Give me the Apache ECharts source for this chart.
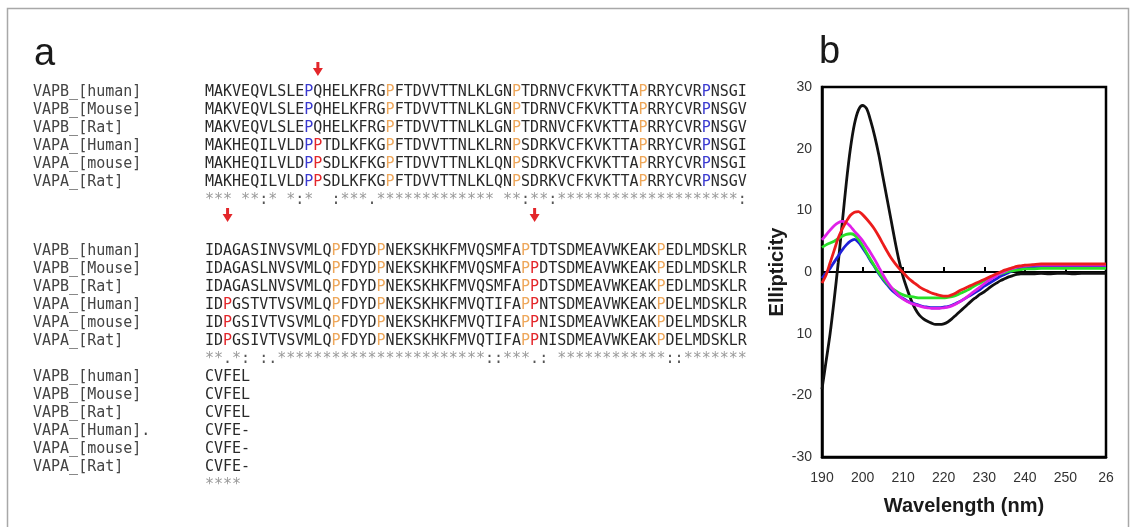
<!DOCTYPE html>
<html>
<head>
<meta charset="utf-8">
<title>VAP alignment and CD spectra</title>
<script src="https://cdn.jsdelivr.net/npm/echarts@6.0.0/dist/echarts.min.js"></script>
<style>
  html, body { margin: 0; padding: 0; background: #fff; }
  #chart { width: 1138px; height: 527px; }
</style>
</head>
<body>
<div id="chart"></div>
<script>
// ---------- Panel a: sequence alignment ----------
const seqNames = ['VAPB_[human]', 'VAPB_[Mouse]', 'VAPB_[Rat]', 'VAPA_[Human]', 'VAPA_[mouse]', 'VAPA_[Rat]'];
const seqNamesLast = ['VAPB_[human]', 'VAPB_[Mouse]', 'VAPB_[Rat]', 'VAPA_[Human].', 'VAPA_[mouse]', 'VAPA_[Rat]'];

const block1 = [
  'MAKVEQVLSLEPQHELKFRGPFTDVVTTNLKLGNPTDRNVCFKVKTTAPRRYCVRPNSGI',
  'MAKVEQVLSLEPQHELKFRGPFTDVVTTNLKLGNPTDRNVCFKVKTTAPRRYCVRPNSGV',
  'MAKVEQVLSLEPQHELKFRGPFTDVVTTNLKLGNPTDRNVCFKVKTTAPRRYCVRPNSGV',
  'MAKHEQILVLDPPTDLKFKGPFTDVVTTNLKLRNPSDRKVCFKVKTTAPRRYCVRPNSGI',
  'MAKHEQILVLDPPSDLKFKGPFTDVVTTNLKLQNPSDRKVCFKVKTTAPRRYCVRPNSGI',
  'MAKHEQILVLDPPSDLKFKGPFTDVVTTNLKLQNPSDRKVCFKVKTTAPRRYCVRPNSGV'
];
const cons1 = '*** **:* *:*  :***.************* **:**:********************:';

const block2 = [
  'IDAGASINVSVMLQPFDYDPNEKSKHKFMVQSMFAPTDTSDMEAVWKEAKPEDLMDSKLR',
  'IDAGASLNVSVMLQPFDYDPNEKSKHKFMVQSMFAPPDTSDMEAVWKEAKPEDLMDSKLR',
  'IDAGASLNVSVMLQPFDYDPNEKSKHKFMVQSMFAPPDTSDMEAVWKEAKPEDLMDSKLR',
  'IDPGSTVTVSVMLQPFDYDPNEKSKHKFMVQTIFAPPNTSDMEAVWKEAKPDELMDSKLR',
  'IDPGSIVTVSVMLQPFDYDPNEKSKHKFMVQTIFAPPNISDMEAVWKEAKPDELMDSKLR',
  'IDPGSIVTVSVMLQPFDYDPNEKSKHKFMVQTIFAPPNISDMEAVWKEAKPDELMDSKLR'
];
const cons2 = '**.*: :.***********************::***.: ************::*******';

const block3 = ['CVFEL', 'CVFEL', 'CVFEL', 'CVFE-', 'CVFE-', 'CVFE-'];
const cons3 = '****';

// proline columns (1-based) by highlight colour
const block1Blue = [12, 56];
const block1Orange = [21, 35, 49];
const block1Red = [13];
const block2Blue = [];
const block2Orange = [15, 20, 36, 51];
const block2Red = [3, 37];

// columns marked with a red arrow
const block1Arrows = [13];
const block2Arrows = [3, 37];

// ---------- Panel b: CD spectra ----------
const wavelength = [
  190, 191, 192, 193, 194, 195, 196, 197, 198, 199,
  200, 201, 202, 203, 204, 205, 206, 207, 208, 209,
  210, 211, 212, 213, 214, 215, 216, 217, 218, 219,
  220, 221, 222, 223, 224, 225, 226, 227, 228, 229,
  230, 231, 232, 233, 234, 235, 236, 237, 238, 239,
  240, 242, 244, 246, 248, 250, 252, 254, 256, 258, 260
];
const cdBlack = [
  -19, -14.5, -10, -4.5, 1.5, 8, 14.5, 20, 24, 26.3,
  27, 26.5, 24.5, 22, 19, 15.5, 12, 8.5, 5, 1.8,
  -0.8, -2.8, -4.6, -6, -7, -7.6, -8, -8.3, -8.5, -8.5,
  -8.4, -8.1, -7.6, -7.0, -6.4, -5.8, -5.2, -4.6, -4.1, -3.6,
  -3.2, -2.7, -2.2, -1.8, -1.4, -1.1, -0.8, -0.6, -0.4, -0.3,
  -0.3, -0.3, -0.2, -0.3, -0.2, -0.2, -0.3, -0.2, -0.2, -0.2, -0.2
];
const cdBlue = [
  -1, -0.2, 0.6, 1.6, 2.6, 3.6, 4.4, 5.0, 5.3, 4.8,
  3.9, 2.9, 1.8, 0.8, -0.3, -1.2, -2.0, -2.8, -3.4, -3.9,
  -4.3, -4.7, -5.0, -5.2, -5.4, -5.6, -5.7, -5.8, -5.8, -5.8,
  -5.7, -5.6, -5.4, -5.1, -4.8, -4.4, -4.0, -3.6, -3.2, -2.8,
  -2.3, -1.9, -1.5, -1.1, -0.7, -0.4, -0.1, 0.2, 0.4, 0.6,
  0.7, 0.8, 0.8, 0.8, 0.8, 0.8, 0.8, 0.8, 0.8, 0.8, 0.8
];
const cdGreen = [
  4, 4.4, 4.7, 5, 5.4, 5.8, 6.1, 6.2, 6.0, 5.3,
  4.3, 3.1, 2.0, 0.9, -0.1, -1.0, -1.8, -2.5, -3.0, -3.4,
  -3.7, -3.9, -4.0, -4.1, -4.2, -4.2, -4.2, -4.2, -4.2, -4.2,
  -4.2, -4.1, -4.0, -3.8, -3.5, -3.2, -2.9, -2.5, -2.1, -1.8,
  -1.4, -1.1, -0.8, -0.5, -0.3, -0.1, 0.1, 0.2, 0.3, 0.4,
  0.5, 0.5, 0.6, 0.6, 0.6, 0.6, 0.6, 0.6, 0.6, 0.6, 0.6
];
const cdMagenta = [
  5.2, 6, 6.8, 7.5, 8, 8.2, 8, 7.4, 6.6, 5.9,
  5.1, 4.1, 3.1, 2.0, 0.8, -0.4, -1.5, -2.4, -3.2, -3.9,
  -4.4, -4.8, -5.1, -5.3, -5.5, -5.7, -5.8, -5.9, -5.9, -5.9,
  -5.8, -5.7, -5.5, -5.2, -4.8, -4.4, -3.9, -3.4, -2.9, -2.4,
  -1.9, -1.4, -1.0, -0.6, -0.2, 0.1, 0.4, 0.6, 0.8, 0.9,
  1.0, 1.1, 1.1, 1.1, 1.1, 1.1, 1.1, 1.1, 1.1, 1.1, 1.1
];
const cdRed = [
  -1.8, -0.5, 1.5, 3.5, 5.5, 7, 8.2, 9.2, 9.7, 9.8,
  9.3, 8.6, 7.8, 6.9, 5.8, 4.6, 3.4, 2.3, 1.4, 0.6,
  -0.1, -0.8, -1.4, -1.9, -2.4, -2.8, -3.1, -3.4, -3.6, -3.8,
  -3.9, -3.9, -3.7, -3.4, -3.0, -2.7, -2.4, -2.1, -1.8, -1.5,
  -1.2, -0.9, -0.6, -0.3, 0.0, 0.3, 0.5, 0.7, 0.9, 1.0,
  1.1, 1.2, 1.3, 1.3, 1.3, 1.3, 1.3, 1.3, 1.3, 1.3, 1.3
];

const xTickLabels = ['190', '200', '210', '220', '230', '240', '250', '26'];
const yTickLabels = ['-30', '-20', '10', '0', '10', '20', '30'];

// ---------- layout ----------
const MONO = '15px "DejaVu Sans Mono", monospace';
const SANS = '"Liberation Sans", Arial, sans-serif';
const measureCtx = document.createElement('canvas').getContext('2d');
measureCtx.font = MONO;
const CHAR_W = measureCtx.measureText('MMMMMMMMMM').width / 10;

const NAME_X = 33;
const SEQ_X = 205;
const ROW_H = 18;
const BLOCK_Y = [92, 251, 377];

const PRO_COLORS = { o: '#eea75a', b: '#3a3ad0', r: '#e3262a' };
const richBase = {
  o: { fill: PRO_COLORS.o, font: MONO },
  b: { fill: PRO_COLORS.b, font: MONO },
  r: { fill: PRO_COLORS.r, font: MONO },
  k: { fill: '#555', font: MONO }
};

function markSeq(seq, blue, orange, red) {
  let out = '';
  for (let i = 0; i < seq.length; i++) {
    const c = seq[i], col = i + 1;
    if (c === 'P' && blue.includes(col)) out += '{b|P}';
    else if (c === 'P' && orange.includes(col)) out += '{o|P}';
    else if (c === 'P' && red.includes(col)) out += '{r|P}';
    else out += c;
  }
  return out;
}
function markCons(s) {
  return s.replace(/[:.]/g, m => '{k|' + m + '}');
}

const graphics = [];
// outer frame
graphics.push({
  type: 'rect', silent: true,
  shape: { x: 7.5, y: 8.5, width: 1121, height: 540 },
  style: { fill: 'none', stroke: '#a8a8a8', lineWidth: 1.5 }
});
// panel letters
graphics.push({ type: 'text', x: 34, y: 55, style: { text: 'a', font: '38px ' + SANS, fill: '#1a1a1a', verticalAlign: 'middle' } });
graphics.push({ type: 'text', x: 819, y: 53, style: { text: 'b', font: '38px ' + SANS, fill: '#1a1a1a', verticalAlign: 'middle' } });

function addBlock(top, names, seqs, cons, blue, orange, red) {
  seqs.forEach((s, r) => {
    const y = top + r * ROW_H;
    graphics.push({ type: 'text', x: NAME_X, y: y, silent: true,
      style: { text: names[r], font: MONO, fill: '#444', verticalAlign: 'middle' } });
    graphics.push({ type: 'text', x: SEQ_X, y: y, silent: true,
      style: { text: markSeq(s, blue, orange, red), font: MONO, fill: '#2a2a2a', verticalAlign: 'middle', rich: richBase } });
  });
  graphics.push({ type: 'text', x: SEQ_X, y: top + seqs.length * ROW_H, silent: true,
    style: { text: markCons(cons), font: MONO, fill: '#9a9a9a', verticalAlign: 'middle', rich: richBase } });
}
addBlock(BLOCK_Y[0], seqNames, block1, cons1, block1Blue, block1Orange, block1Red);
addBlock(BLOCK_Y[1], seqNames, block2, cons2, block2Blue, block2Orange, block2Red);
addBlock(BLOCK_Y[2], seqNamesLast, block3, cons3, [], [], []);

function addArrow(col, y0) {
  const cx = SEQ_X + (col - 0.5) * CHAR_W;
  graphics.push({ type: 'polygon', silent: true,
    shape: { points: [
      [cx - 1.5, y0], [cx + 1.5, y0], [cx + 1.5, y0 + 6], [cx + 5, y0 + 6],
      [cx, y0 + 14], [cx - 5, y0 + 6], [cx - 1.5, y0 + 6]
    ] },
    style: { fill: '#e3262a' } });
}
block1Arrows.forEach(c => addArrow(c, 62));
block2Arrows.forEach(c => addArrow(c, 208));

// ---------- chart ----------
function pairs(ys) { return wavelength.map((w, i) => [w, ys[i]]); }
function cdSeries(name, color, ys) {
  return {
    name, type: 'line', xAxisIndex: 0, yAxisIndex: 0,
    data: pairs(ys), showSymbol: false, smooth: 0.3,
    lineStyle: { color, width: 2.8 }, itemStyle: { color },
    animation: false
  };
}

const chart = echarts.init(document.getElementById('chart'), null, { renderer: 'canvas' });
chart.setOption({
  backgroundColor: '#fff',
  animation: false,
  grid: { left: 822, top: 87, width: 284, height: 370, show: true, borderColor: '#000', borderWidth: 2.5, backgroundColor: 'transparent' },
  xAxis: [
    {
      type: 'value', min: 190, max: 260, interval: 10, position: 'bottom',
      axisLine: { show: true, onZero: false, lineStyle: { color: '#000', width: 2.5 } },
      axisTick: { show: false }, splitLine: { show: false },
      axisLabel: { color: '#333', fontSize: 14, fontFamily: SANS, margin: 14,
        formatter: v => xTickLabels[Math.round((v - 190) / 10)] },
      name: 'Wavelength (nm)', nameLocation: 'middle', nameGap: 39,
      nameTextStyle: { color: '#1a1a1a', fontSize: 20, fontWeight: 'bold', fontFamily: SANS }
    },
    {
      type: 'value', min: 190, max: 260, interval: 10, position: 'top',
      axisLine: { show: true, onZero: true, lineStyle: { color: '#000', width: 2 } },
      axisTick: { show: true, inside: false, length: 5, lineStyle: { color: '#000', width: 2 } },
      axisLabel: { show: false }, splitLine: { show: false }
    }
  ],
  yAxis: {
    type: 'value', min: -30, max: 30, interval: 10,
    axisLine: { show: true, onZero: false, lineStyle: { color: '#000', width: 2.5 } },
    axisTick: { show: false }, splitLine: { show: false },
    axisLabel: { color: '#333', fontSize: 14, fontFamily: SANS, margin: 10,
      formatter: v => yTickLabels[Math.round((v + 30) / 10)] },
    name: 'Ellipticity', nameLocation: 'middle', nameGap: 32, nameRotate: 90,
    nameTextStyle: { color: '#1a1a1a', fontSize: 20, fontWeight: 'bold', fontFamily: SANS }
  },
  series: [
    cdSeries('black', '#111111', cdBlack),
    cdSeries('blue', '#1f1fd8', cdBlue),
    cdSeries('green', '#28e028', cdGreen),
    cdSeries('magenta', '#e020e8', cdMagenta),
    cdSeries('red', '#ec1c1c', cdRed)
  ],
  graphic: { elements: graphics }
});
</script>
</body>
</html>
